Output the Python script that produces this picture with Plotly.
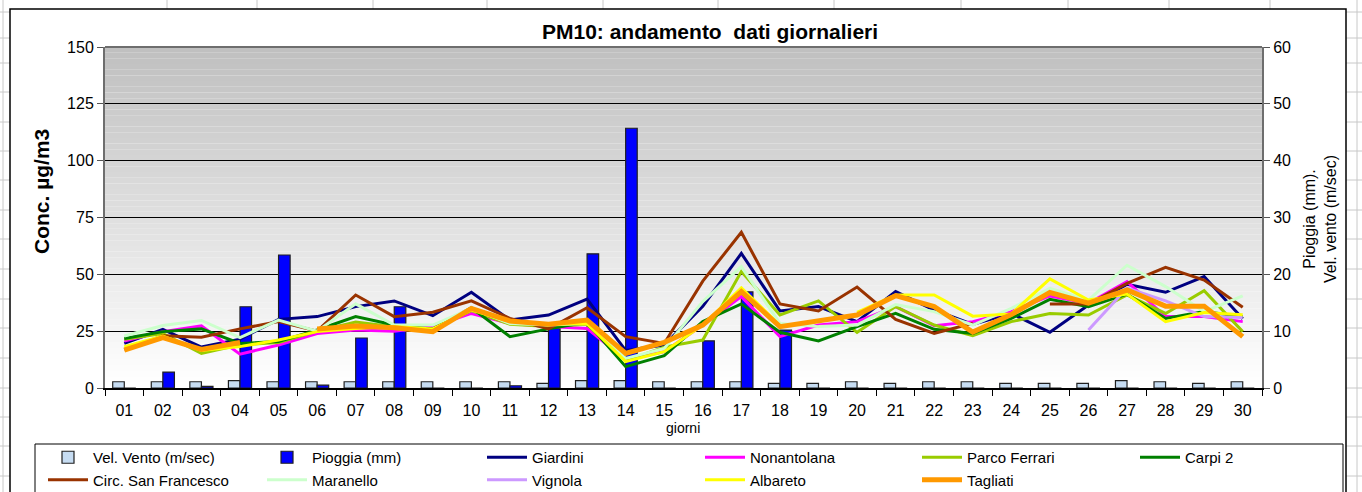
import plotly.graph_objects as go

giorni = [f"{d:02d}" for d in range(1, 31)]

vel_vento = [1.1, 1.1, 1.1, 1.3, 1.1, 1.1, 1.1, 1.1, 1.1, 1.1, 1.1, 0.8, 1.3, 1.3, 1.1,
             1.1, 1.1, 0.8, 0.8, 1.1, 0.8, 1.1, 1.1, 0.8, 0.8, 0.8, 1.3, 1.1, 0.8, 1.1]
pioggia = [0, 2.8, 0.3, 14.3, 23.4, 0.5, 8.8, 14.3, 0, 0, 0.4, 10.5, 23.6, 45.7, 0,
           8.3, 16.9, 10.2, 0, 0, 0, 0, 0, 0, 0, 0, 0, 0, 0, 0]

giardini = [19.6, 25.8, 18.0, 21.5, 30.2, 31.4, 35.8, 38.3, 31.8, 42.1, 29.9, 32.1, 39.1, 16.5, 18.9,
            36.0, 59.2, 33.9, 35.8, 29.2, 42.4, 34.3, 28.0, 32.8, 24.5, 36.5, 45.6, 42.1, 49.0, 30.5]
nonantolana = [20.7, 24.8, 27.3, 14.9, 18.9, 24.0, 25.5, 25.0, 27.0, 32.8, 28.4, 27.0, 26.2, 12.3, 16.0,
               27.7, 40.2, 22.6, 27.7, 29.2, 35.8, 27.4, 29.2, 33.6, 40.5, 37.2, 46.8, 31.4, 31.4, 29.2]
parco_ferrari = [21.4, 24.0, 15.2, 19.0, 20.0, 25.0, 29.0, 27.0, 26.0, 34.0, 28.0, 27.0, 28.0, 12.0, 18.0,
                 21.1, 51.2, 32.1, 38.3, 24.5, 35.8, 27.7, 23.0, 29.2, 32.8, 32.1, 40.9, 32.8, 42.8, 24.8]
carpi2 = [21.8, 24.8, 26.0, 19.6, 20.4, 25.5, 31.4, 27.7, 26.0, 35.3, 22.6, 26.0, 28.9, 9.4, 14.2,
          29.2, 37.0, 24.5, 20.7, 27.0, 32.8, 25.8, 24.0, 30.6, 39.0, 35.8, 41.3, 30.6, 33.6, 31.4]
san_francesco = [17.0, 23.0, 22.3, 26.0, 29.2, 25.0, 40.9, 31.4, 33.3, 38.3, 30.6, 26.0, 35.3, 22.6, 19.6,
                 47.0, 68.5, 37.0, 33.9, 44.4, 30.2, 24.0, 28.5, None, 36.9, 36.9, 46.0, 53.1, 47.5, 35.5]
maranello = [22.9, 27.5, 29.7, 22.2, 29.9, 25.0, 37.0, 27.7, 27.7, 35.0, 28.4, 27.7, 28.4, 13.0, 17.4,
             38.0, 53.4, 28.4, 27.0, 27.7, 36.7, 33.6, 27.7, 35.0, 43.8, 38.7, 54.0, 44.6, 33.6, 40.5]
vignola = [None] * 25 + [25.5, 44.0, 38.3, 31.4, 31.0]
albareto = [18.2, 22.8, 16.5, 18.2, 21.1, 24.8, 26.2, 27.0, 26.0, 34.3, 29.2, 28.0, 28.4, 11.6, 16.0,
            27.7, 44.1, 27.5, None, 33.3, 40.9, 40.9, 31.6, 32.6, 48.0, 38.7, 41.3, 29.2, 33.2, 32.2]
tagliati = [16.7, 22.2, 17.0, 20.0, None, 26.0, 27.3, 26.5, 24.8, 35.0, 29.5, 28.0, 29.9, 15.2, 20.1,
            27.7, 42.4, 27.0, 29.5, 32.1, 40.6, 35.8, 24.6, 32.3, 42.0, 37.3, 43.1, 36.0, 36.0, 22.6]

# (name, values, colour, width, legend column)
stazioni = [
    ("Giardini", giardini, "#000080", 3, "legend3"),
    ("Nonantolana", nonantolana, "#ff00ff", 3, "legend4"),
    ("Parco Ferrari", parco_ferrari, "#99cc00", 3, "legend5"),
    ("Carpi 2", carpi2, "#008000", 3, "legend6"),
    ("Circ. San Francesco", san_francesco, "#993300", 3, "legend"),
    ("Maranello", maranello, "#ccffcc", 3, "legend2"),
    ("Vignola", vignola, "#cc99ff", 3, "legend3"),
    ("Albareto", albareto, "#ffff00", 3, "legend4"),
    ("Tagliati", tagliati, "#ff9900", 5, "legend5"),
]

W, H = 1362, 492
L, R, T, B = 105, 1262, 47, 388  # plot area in pixels


def px(x):
    return (x - L) / (R - L)


def py(y):
    return (B - y) / (B - T)


FONT = "Arial, Liberation Sans, sans-serif"

fig = go.Figure()

# bars on the primary (right-hand) axis so the lines overlay them
fig.add_trace(go.Bar(x=giorni, y=vel_vento, name="Vel. Vento (m/sec)", yaxis="y", legend="legend",
                     marker=dict(color="#c6dcf2", line=dict(color="#202020", width=1.2))))
fig.add_trace(go.Bar(x=giorni, y=pioggia, name="Pioggia (mm)", yaxis="y", legend="legend2",
                     marker=dict(color="#0000ff", line=dict(color="#202020", width=1.2))))

for name, vals, color, width, leg in stazioni:
    fig.add_trace(go.Scatter(x=giorni, y=vals, name=name, mode="lines", yaxis="y2", legend=leg,
                             line=dict(color=color, width=width)))

shapes = []

# spreadsheet grid behind the chart
grid_col = "#c8c8c8"
rows_y = [12, 38, 63, 92, 122, 151, 180, 210, 239, 269, 299, 328, 358, 388, 417, 446, 476]
for yy in rows_y:
    shapes.append(dict(type="line", xref="paper", yref="paper", x0=px(0), x1=px(10), y0=py(yy), y1=py(yy),
                       line=dict(color=grid_col, width=1), layer="below"))
    shapes.append(dict(type="line", xref="paper", yref="paper", x0=px(1346), x1=px(1362), y0=py(yy), y1=py(yy),
                       line=dict(color=grid_col, width=1), layer="below"))
for xx in [3, 1357]:
    shapes.append(dict(type="line", xref="paper", yref="paper", x0=px(xx), x1=px(xx), y0=py(0), y1=py(492),
                       line=dict(color=grid_col, width=1), layer="below"))
for xx in [167, 257, 373, 487, 603, 718, 834, 961, 1068, 1169, 1270]:
    shapes.append(dict(type="line", xref="paper", yref="paper", x0=px(xx), x1=px(xx), y0=py(0), y1=py(9),
                       line=dict(color=grid_col, width=1), layer="below"))

# chart area (white with black frame)
shapes.append(dict(type="rect", xref="paper", yref="paper", x0=px(10), x1=px(1346), y0=py(9), y1=py(500),
                   fillcolor="white", line=dict(color="#000000", width=1.5), layer="below"))

# gradient plot background
n_bands = 60
for i in range(n_bands):
    f = i / (n_bands - 1)
    c = int(round(255 - (255 - 192) * f))
    shapes.append(dict(type="rect", xref="paper", yref="paper", x0=0, x1=1,
                       y0=i / n_bands, y1=(i + 1) / n_bands,
                       fillcolor=f"rgb({c},{c},{c})", line=dict(width=0), layer="below"))

# top border of plot
shapes.append(dict(type="line", xref="paper", yref="paper", x0=0, x1=1, y0=1, y1=1,
                   line=dict(color="#6e6e6e", width=2)))

# legend box
shapes.append(dict(type="rect", xref="paper", yref="paper", x0=px(35), x1=px(1343), y0=py(444), y1=py(510),
                   fillcolor="white", line=dict(color="#000000", width=1), layer="below"))

annotations = [
    dict(text="<b>PM10: andamento\u00a0 dati giornalieri</b>", x=px(710), y=py(31),
         font=dict(size=21, color="black", family=FONT)),
    dict(text="<b>Conc. µg/m3</b>", x=px(42), y=py(192), textangle=-90,
         font=dict(size=21, color="black", family=FONT)),
    dict(text="Pioggia (mm).<br>Vel. vento (m/sec)", x=px(1320), y=py(219), textangle=-90,
         font=dict(size=16, color="black", family=FONT)),
    dict(text="giorni", x=px(683), y=py(428),
         font=dict(size=14, color="black", family=FONT)),
]
for a in annotations:
    a.update(xref="paper", yref="paper", xanchor="center", yanchor="middle", showarrow=False)

legend_cols = [48, 267, 487, 705, 922, 1140]
legend_names = ["legend", "legend2", "legend3", "legend4", "legend5", "legend6"]
legends = {}
for lname, cx in zip(legend_names, legend_cols):
    legends[lname] = dict(orientation="v", x=px(cx - 5), y=py(441), xanchor="left", yanchor="top",
                          bgcolor="rgba(0,0,0,0)", borderwidth=0, itemwidth=40,
                          font=dict(size=15, family=FONT, color="black"), traceorder="normal")

fig.update_layout(
    width=W, height=H,
    margin=dict(l=L, r=W - R, t=T, b=H - B, pad=0, autoexpand=False),
    paper_bgcolor="white",
    plot_bgcolor="rgba(0,0,0,0)",
    font=dict(family=FONT, size=16, color="black"),
    barmode="group", bargap=0.4, bargroupgap=0,
    showlegend=True,
    shapes=shapes,
    annotations=annotations,
    xaxis=dict(type="category", range=[-0.5, 29.5], tickson="boundaries", ticks="outside", ticklen=6,
               tickcolor="black", showline=True, linecolor="black", linewidth=1.5, showgrid=False,
               tickfont=dict(size=16), ticklabelstandoff=7),
    yaxis=dict(side="right", range=[0, 60], dtick=10, ticks="outside", ticklen=6, tickcolor="#555555",
               showline=True, linecolor="#6e6e6e", linewidth=2, showgrid=False, zeroline=False,
               tickfont=dict(size=16)),
    yaxis2=dict(side="left", overlaying="y", range=[0, 150], dtick=25, ticks="outside", ticklen=6,
                tickcolor="#555555", showline=True, linecolor="#6e6e6e", linewidth=2,
                showgrid=True, gridcolor="black", gridwidth=1, zeroline=False,
                tickfont=dict(size=16)),
    **legends,
)

fig.write_html("out.html", config={"displayModeBar": False},
               post_script="document.body.style.margin='0px';")
